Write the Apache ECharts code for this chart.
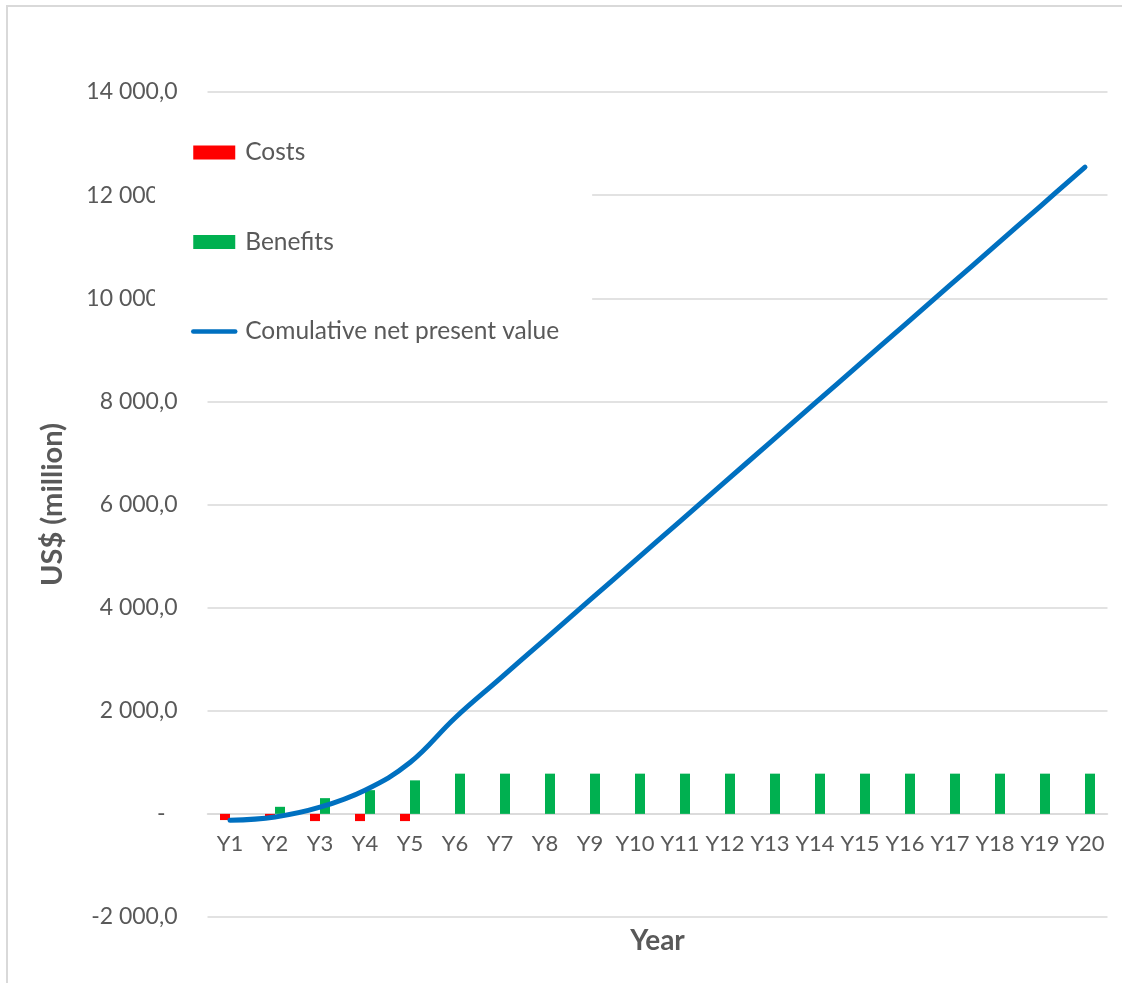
<!DOCTYPE html>
<html>
<head>
<meta charset="utf-8">
<title>Costs, benefits and cumulative NPV</title>
<script src="https://cdn.jsdelivr.net/npm/echarts@6/dist/echarts.min.js"></script>
<style>
  html, body { margin: 0; padding: 0; background: #ffffff; }
  #chart { width: 1122px; height: 983px; }
</style>
</head>
<body>
<div id="chart"></div>
<script>
// Year categories along the x axis
const years = ['Y1', 'Y2', 'Y3', 'Y4', 'Y5', 'Y6', 'Y7', 'Y8', 'Y9', 'Y10',
  'Y11', 'Y12', 'Y13', 'Y14', 'Y15', 'Y16', 'Y17', 'Y18', 'Y19', 'Y20'];

// Yearly costs (US$ million, negative)
const costs = [-120, -50, -140, -140, -140, null, null, null, null, null,
  null, null, null, null, null, null, null, null, null, null];

// Yearly benefits (US$ million)
const benefits = [null, 137, 305, 460, 650, 780, 780, 780, 780, 780,
  780, 780, 780, 780, 780, 780, 780, 780, 780, 780];

// Cumulative net present value (US$ million)
const cumulativeNpv = [-125, -60, 130, 460, 995, 1860, 2623, 3386, 4149, 4912,
  5675, 6438, 7201, 7964, 8727, 9490, 10253, 11016, 11779, 12542];

// Value axis range and step
const yMin = -2000;
const yMax = 14000;
const yStep = 2000;

const seriesNames = ['Costs', 'Benefits', 'Comulative net present value'];

const FONT = 'Lato, "Open Sans", sans-serif';
const TEXT = '#595959';
const GRID = '#d9d9d9';
const BLUE = '#0070c0';

// Plot box
const GRID_TOP = 92;
const GRID_BOTTOM = 66;
const GRID_HEIGHT = 983 - GRID_TOP - GRID_BOTTOM;
// Distance from the bottom of the plot up to the zero line
const ZERO_LIFT = GRID_HEIGHT * (0 - yMin) / (yMax - yMin);

// Accounting-style number: "14 000,0", zero shown as a dash
function formatValue(v) {
  if (v === 0) return '{dash|-}';
  const parts = Math.abs(v).toFixed(1).split('.');
  const intPart = parts[0].replace(/\B(?=(\d{3})+(?!\d))/g, ' ');
  return (v < 0 ? '-' : '') + intPart + ',' + parts[1];
}

const chart = echarts.init(document.getElementById('chart'), null, { renderer: 'canvas' });

chart.setOption({
  backgroundColor: '#ffffff',
  animation: false,
  textStyle: { fontFamily: FONT },
  graphic: [{
    type: 'rect',
    z: -10,
    silent: true,
    shape: { x: 7, y: 6, width: 1400, height: 1400 },
    style: { fill: null, stroke: GRID, lineWidth: 2 }
  }],
  grid: {
    left: 207.5,
    right: 14.5,
    top: GRID_TOP,
    bottom: GRID_BOTTOM,
    containLabel: false,
    outerBoundsMode: 'none'
  },
  legend: {
    orient: 'vertical',
    left: 155,
    top: 110,
    padding: [30, 33, 31, 36],
    backgroundColor: '#ffffff',
    itemWidth: 42,
    itemHeight: 14,
    itemGap: 64.5,
    textStyle: {
      fontFamily: FONT,
      fontSize: 24.5,
      color: TEXT,
      lineHeight: 22,
      padding: [0, 0, 0, 5]
    },
    data: [
      { name: seriesNames[0], icon: 'rect' },
      { name: seriesNames[1], icon: 'rect' },
      {
        name: seriesNames[2],
        itemStyle: { opacity: 0 },
        lineStyle: { width: 4.5, cap: 'round', color: BLUE }
      }
    ]
  },
  xAxis: {
    type: 'category',
    data: years,
    position: 'bottom',
    offset: -ZERO_LIFT,
    name: 'Year',
    nameLocation: 'middle',
    nameGap: 113,
    nameTextStyle: { fontFamily: FONT, fontSize: 28, fontWeight: 'bold', color: TEXT },
    axisLine: { show: true, onZero: false, lineStyle: { color: GRID, width: 1.5 } },
    axisTick: { show: false },
    axisLabel: { fontFamily: FONT, fontSize: 22, color: TEXT, margin: 19, interval: 0 },
    splitLine: { show: false }
  },
  yAxis: {
    type: 'value',
    min: yMin,
    max: yMax,
    interval: yStep,
    name: 'US$ (million)',
    nameLocation: 'middle',
    nameGap: 140,
    nameTextStyle: { fontFamily: FONT, fontSize: 29, fontWeight: 'bold', color: TEXT },
    axisLine: { show: false },
    axisTick: { show: false },
    axisLabel: {
      fontFamily: FONT,
      fontSize: 23,
      color: TEXT,
      margin: 30,
      formatter: formatValue,
      rich: { dash: { fontFamily: FONT, fontSize: 23, color: TEXT, padding: [0, 12, 0, 0] } }
    },
    splitLine: { show: true, lineStyle: { color: GRID, width: 1.5 } }
  },
  series: [
    {
      name: seriesNames[0],
      type: 'bar',
      data: costs,
      barWidth: 10,
      barGap: '0%',
      itemStyle: { color: '#ff0000' },
      z: 2
    },
    {
      name: seriesNames[1],
      type: 'bar',
      data: benefits,
      barWidth: 10,
      barGap: '0%',
      itemStyle: { color: '#00b050' },
      z: 2
    },
    {
      name: seriesNames[2],
      type: 'line',
      data: cumulativeNpv,
      smooth: 0.4,
      symbol: 'none',
      lineStyle: { color: BLUE, width: 5, cap: 'round', join: 'round' },
      itemStyle: { color: BLUE },
      z: 3
    }
  ]
});
</script>
</body>
</html>
